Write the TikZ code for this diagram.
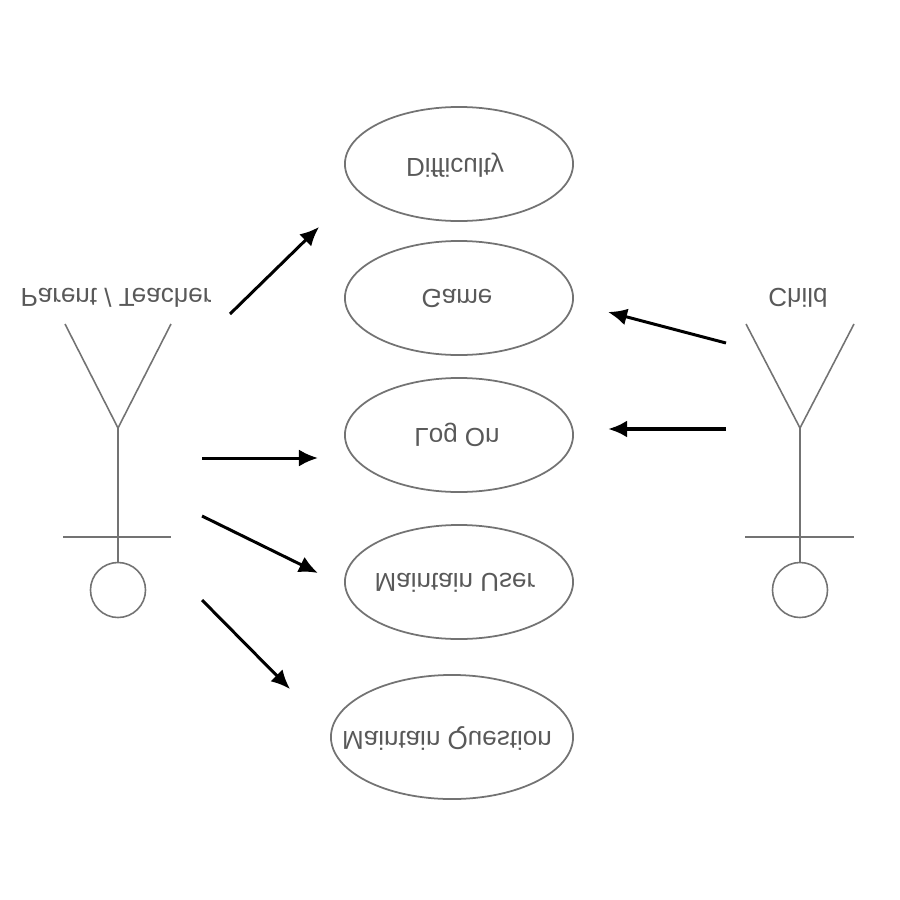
\documentclass[tikz,border=0pt]{standalone}
\usepackage{fontspec}
\setmainfont{Liberation Sans}
\usetikzlibrary{arrows.meta,shapes.geometric}

\begin{document}
\begin{tikzpicture}[x=0.01cm,y=-0.01cm,>={Latex[length=0.19cm,width=0.17cm]},
  use node/.style={ellipse,draw=black!55,line width=0.5pt,inner sep=0pt,
    minimum width=2.28cm,minimum height=1.14cm},
  text node/.style={text=black!65,font=\fontsize{7.4pt}{8pt}\selectfont,yscale=-1},
  head node/.style={circle,draw=black!55,line width=0.45pt,inner sep=0pt,minimum size=0.55cm},
  stick/.style={draw=black!55,line width=0.45pt},
  assoc/.style={->,black,line width=0.85pt}]
  \useasboundingbox (0,0) rectangle (900,900);
  \node[use node]   (diff) at (459,164)   {};
  \node[use node]   (game) at (459,298)   {};
  \node[use node]   (log)  at (459,435)   {};
  \node[use node]   (user) at (459,582)   {};
  \node[use node,minimum width=2.42cm,minimum height=1.24cm]
                    (ques) at (452,737)   {};
  \node[text node]  (difft) at (455,165)  {Difficulty};
  \node[text node]  (gamet) at (457,298)  {Game};
  \node[text node]  (logt)  at (457,435)  {Log On};
  \node[text node]  (usert) at (455,583)  {Maintain User};
  \node[text node]  (quest) at (447,738)  {Maintain Question};
  \node[text node]  (parent) at (116,298) {Parent / Teacher};
  \node[text node]  (child)  at (798,298) {Child};
  \node[head node]  (phead) at (118,590)  {};
  \node[head node]  (chead) at (800,590)  {};
  % parent figure
  \coordinate (phip)  at (118,428);
  \coordinate (pfl)   at (65,324);
  \coordinate (pfr)   at (171,324);
  \coordinate (pal)   at (63,537);
  \coordinate (par)   at (171,537);
  \draw[stick] (pfl) -- (phip) -- (pfr);
  \draw[stick] (phip) -- (phead);
  \draw[stick] (pal) -- (par);
  % child figure
  \coordinate (chip)  at (800,428);
  \coordinate (cfl)   at (746,324);
  \coordinate (cfr)   at (854,324);
  \coordinate (cal)   at (745,537);
  \coordinate (car)   at (854,537);
  \draw[stick] (cfl) -- (chip) -- (cfr);
  \draw[stick] (chip) -- (chead);
  \draw[stick] (cal) -- (car);
  % arrow ends
  \coordinate (a1s) at (230,314);
  \coordinate (a1e) at (319,227);
  \coordinate (a2s) at (202,458);
  \coordinate (a2e) at (318,458);
  \coordinate (a3s) at (202,516);
  \coordinate (a3e) at (318,573);
  \coordinate (a4s) at (202,600);
  \coordinate (a4e) at (290,689);
  \coordinate (a5s) at (726,343);
  \coordinate (a5e) at (608,312);
  \coordinate (a6s) at (726,429);
  \coordinate (a6e) at (608,429);
  \draw[assoc] (a1s) -- (a1e);
  \draw[assoc] (a2s) -- (a2e);
  \draw[assoc] (a3s) -- (a3e);
  \draw[assoc] (a4s) -- (a4e);
  \draw[assoc] (a5s) -- (a5e);
  \draw[assoc,line width=1.1pt] (a6s) -- (a6e);
\end{tikzpicture}
\end{document}
